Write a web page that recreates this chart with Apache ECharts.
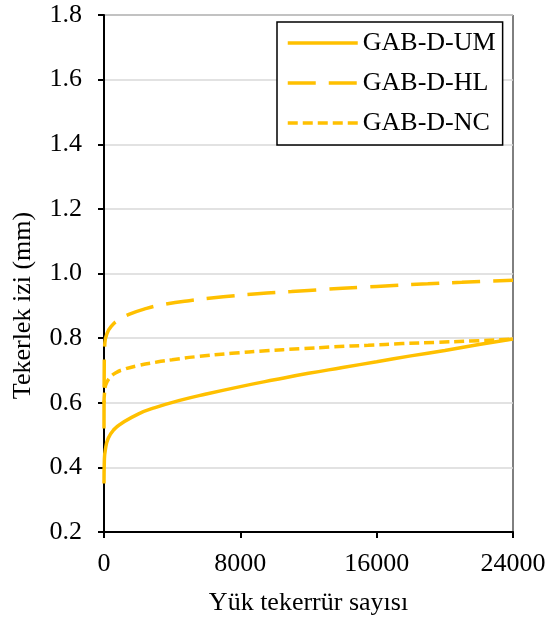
<!DOCTYPE html>
<html>
<head>
<meta charset="utf-8">
<script src="https://cdn.jsdelivr.net/npm/echarts@6/dist/echarts.min.js"></script>
<style>
  html, body { margin: 0; padding: 0; background: #fff; }
  #chart { width: 550px; height: 626px; }
</style>
</head>
<body>
<div id="chart"></div>
<script>
// Load repetitions (x) and rut depth in mm (y) for each mixture
const seriesNames = ['GAB-D-UM', 'GAB-D-HL', 'GAB-D-NC'];

const umX = [0, 20, 80, 250, 600, 1000, 2000, 3000, 4500, 6000, 8000, 10000, 12000, 14000, 16000, 18000, 20000, 22000, 24000];
const umY = [0.35, 0.42, 0.455, 0.49, 0.518, 0.535, 0.565, 0.585, 0.608, 0.627, 0.650, 0.671, 0.691, 0.709, 0.727, 0.745, 0.762, 0.780, 0.797];

const hlX = [0, 15, 50, 180, 450, 820, 1500, 2500, 3500, 5000, 7000, 9000, 11000, 13000, 15000, 17000, 19000, 21000, 24000];
const hlY = [0.52, 0.72, 0.785, 0.815, 0.838, 0.855, 0.874, 0.892, 0.904, 0.916, 0.928, 0.937, 0.944, 0.951, 0.957, 0.963, 0.968, 0.973, 0.979];

const ncX = [0, 30, 100, 300, 700, 1200, 2000, 3000, 4000, 5500, 7500, 9500, 11500, 13500, 15500, 17500, 19500, 21500, 24000];
const ncY = [0.60, 0.63, 0.655, 0.675, 0.693, 0.704, 0.715, 0.725, 0.733, 0.743, 0.753, 0.761, 0.767, 0.773, 0.778, 0.783, 0.787, 0.791, 0.797];

const xTicks = [0, 8000, 16000, 24000];
const yTicks = [0.2, 0.4, 0.6, 0.8, 1.0, 1.2, 1.4, 1.6, 1.8];

const xTitle = 'Yük tekerrür sayısı';
const yTitle = 'Tekerlek izi (mm)';

const FONT = "'Liberation Serif', 'Times New Roman', serif";
const GOLD = '#FFC000';

const pairs = (xs, ys) => xs.map((x, i) => [x, ys[i]]);

const lineSeries = (name, data, dash) => ({
  name: name,
  type: 'line',
  data: data,
  showSymbol: false,
  symbol: 'none',
  smooth: 0.5,
  clip: false,
  lineStyle: { color: GOLD, width: 3.5, type: dash, cap: 'butt', dashOffset: 0 },
  itemStyle: { color: GOLD },
  emphasis: { disabled: true }
});

const chart = echarts.init(document.getElementById('chart'), null, { renderer: 'canvas' });

chart.setOption({
  animation: false,
  backgroundColor: '#ffffff',
  textStyle: { fontFamily: FONT },
  grid: {
    left: 104, right: 37, top: 15, bottom: 94,
    show: true, borderColor: '#000', borderWidth: 1, backgroundColor: 'transparent'
  },
  legend: {
    data: seriesNames,
    orient: 'vertical',
    left: 277, top: 22,
    padding: [1, 7, 2, 9],
    itemGap: 0,
    itemWidth: 70,
    itemHeight: 14,
    itemTextGap: 6,
    borderColor: '#000',
    borderWidth: 1.5,
    backgroundColor: '#fff',
    // keep only the line sample, no marker in the middle
    itemStyle: { color: 'transparent', borderColor: 'transparent', borderWidth: 0 },
    lineStyle: { width: 3.5 },
    textStyle: { fontFamily: FONT, fontSize: 26, color: '#000', lineHeight: 40 }
  },
  xAxis: {
    type: 'value',
    min: xTicks[0], max: xTicks[xTicks.length - 1], interval: 8000,
    name: xTitle,
    nameLocation: 'middle',
    nameGap: 58,
    nameTextStyle: { fontFamily: FONT, fontSize: 26, color: '#000' },
    axisLine: { show: true, onZero: false, lineStyle: { color: '#000', width: 2 } },
    axisTick: { show: true, inside: false, length: 6, lineStyle: { color: '#000', width: 2 } },
    axisLabel: {
      fontFamily: FONT, fontSize: 26, color: '#000', margin: 19,
      formatter: v => String(v)
    },
    splitLine: { show: false }
  },
  yAxis: {
    type: 'value',
    min: yTicks[0], max: yTicks[yTicks.length - 1], interval: 0.2,
    name: yTitle,
    nameLocation: 'middle',
    nameGap: 68,
    nameTextStyle: { fontFamily: FONT, fontSize: 26, color: '#000', padding: [0, 64, 0, 0] },
    axisLine: { show: true, onZero: false, lineStyle: { color: '#000', width: 2 } },
    axisTick: { show: true, inside: false, length: 6, lineStyle: { color: '#000', width: 2 } },
    axisLabel: {
      fontFamily: FONT, fontSize: 26, color: '#000', margin: 22,
      formatter: v => v.toFixed(1)
    },
    splitLine: { show: true, lineStyle: { color: '#d9d9d9', width: 1.5 } }
  },
  series: [
    lineSeries(seriesNames[0], pairs(umX, umY), 'solid'),
    lineSeries(seriesNames[1], pairs(hlX, hlY), [28, 13]),
    lineSeries(seriesNames[2], pairs(ncX, ncY), [10, 5])
  ]
});
</script>
</body>
</html>
